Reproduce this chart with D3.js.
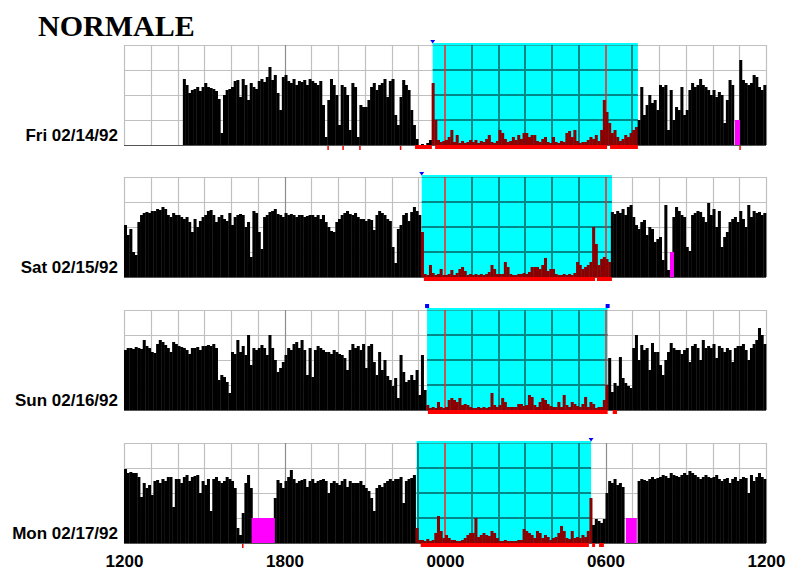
<!DOCTYPE html>
<html><head><meta charset="utf-8">
<script src="https://cdn.jsdelivr.net/npm/d3@7"></script>
<style>body{margin:0;background:#fff}svg{display:block}</style>
</head><body>
<svg id="c" width="786" height="571"></svg>
<script>
const title = "NORMALE";
const dayLabels = ["Fri 02/14/92","Sat 02/15/92","Sun 02/16/92","Mon 02/17/92"];
const tickHours = [0,6,12,18,24];
const tickLabels = ["1200","1800","0000","0600","1200"];

// activity per 6-minute epoch, starting at 12:00 (10 values per hour)
const fri = [
0,0,0,0,0,0,0,0,0,0,
0,0,0,0,0,0,0,0,0,0,
0,0,66,60,52,55,56,58,54,58,
62,58,57,56,54,46,12,50,55,56,
58,64,65,48,66,60,45,62,58,56,
64,66,63,68,78,65,70,52,35,68,
70,64,62,66,60,64,63,65,60,66,
64,62,60,64,40,8,45,66,60,50,
20,60,58,50,15,62,58,8,40,38,
38,45,58,62,55,60,62,66,48,64,
66,30,20,48,65,60,55,35,20,6,
0,1,0,2,5,62,25,5,3,4,
5,8,15,3,10,2,4,2,3,5,
3,5,2,4,3,6,10,3,2,4,
15,12,6,3,4,8,5,10,6,12,
12,8,10,10,4,3,6,8,3,2,
8,3,2,4,3,12,14,8,15,4,
2,3,3,5,8,6,10,4,15,45,
33,22,12,15,8,4,6,10,8,12,
15,18,25,58,30,40,50,42,45,35,
60,58,60,15,55,25,38,35,58,30,
35,55,62,58,60,66,60,58,55,50,
55,48,53,50,22,45,65,60,0,0,
85,65,62,60,62,70,68,58,55,60];
const sat = [
52,42,48,25,22,55,62,64,65,64,
66,66,68,67,70,68,62,60,64,62,
62,60,58,60,55,45,58,50,56,60,
62,66,67,62,55,60,62,58,56,64,
52,60,62,63,62,50,55,20,66,64,
45,28,60,62,65,66,68,63,62,60,
64,62,63,62,60,62,62,60,61,62,
62,60,62,58,62,55,50,46,45,55,
58,62,64,66,63,62,64,60,58,58,
56,58,57,47,62,66,64,62,58,56,
30,14,48,52,62,64,56,65,70,66,
62,45,3,2,12,4,2,3,8,2,
2,3,7,2,4,8,10,6,2,3,
2,3,2,3,2,3,5,12,8,3,
3,3,15,10,3,2,2,3,3,4,
3,5,10,10,10,8,12,19,6,8,
8,3,2,2,3,2,3,2,4,15,
12,8,10,12,15,50,33,12,18,20,
18,15,65,63,66,64,68,62,70,72,
60,52,48,55,57,42,50,48,35,38,
40,17,72,7,0,60,70,66,62,60,
30,26,62,64,66,65,60,55,74,62,
68,50,66,30,40,45,55,58,60,55,
66,58,50,72,60,66,64,65,62,64];
const sun = [
60,62,62,61,63,62,61,70,64,62,
58,57,66,70,68,65,62,58,68,66,
64,63,62,60,56,62,62,63,60,64,
64,65,64,66,62,30,35,33,28,17,
58,56,70,58,64,55,75,45,62,60,
62,65,62,55,75,62,50,38,42,48,
55,62,60,66,68,62,70,60,35,62,
33,60,64,62,60,58,58,56,60,58,
56,55,52,40,60,66,62,64,60,66,
42,64,66,48,35,58,40,50,34,30,
24,32,12,55,38,28,30,35,30,40,
15,55,20,5,2,3,2,8,3,2,
3,10,12,10,8,12,5,6,5,3,
2,2,3,2,3,2,3,17,5,3,
5,12,8,3,3,3,3,6,6,4,
5,15,13,5,3,8,12,10,6,4,
3,3,8,3,15,5,3,8,6,4,
3,6,13,3,8,6,2,3,3,10,
25,52,18,27,24,53,32,27,24,22,
62,75,50,65,60,62,40,67,58,58,
45,35,50,58,67,62,60,60,56,60,
62,48,64,66,62,50,70,62,64,62,
66,52,64,62,58,62,60,48,62,64,
64,66,60,50,62,66,70,82,75,66];
const mon = [
74,70,71,70,70,66,46,60,55,58,
48,62,63,60,64,62,66,66,36,64,
64,60,66,68,62,66,67,68,50,62,
58,64,32,64,66,62,60,62,66,64,
62,55,15,8,30,60,68,55,0,0,
0,0,0,0,0,0,45,63,60,55,
62,66,73,64,60,62,63,64,56,62,
64,60,62,63,64,62,50,60,62,60,
58,62,64,56,62,60,60,60,62,58,
55,52,45,32,55,58,56,60,62,64,
62,64,64,66,40,62,64,65,68,15,
3,3,2,4,2,3,10,27,12,5,
8,5,3,3,2,2,3,5,8,10,
10,25,6,8,10,8,7,12,10,5,
2,2,3,2,2,2,2,3,3,14,
12,10,8,5,12,10,5,8,6,3,
5,6,10,17,12,5,4,12,5,6,
5,8,6,12,45,18,24,22,20,24,
50,62,60,64,58,60,56,0,0,0,
0,0,62,64,63,62,64,66,64,65,
66,68,67,65,70,68,67,66,68,70,
68,72,70,68,66,64,66,68,66,65,
66,68,64,62,64,65,60,64,66,62,
64,66,65,50,68,62,66,70,66,64];

// intervals in hours after 12:00
const restIntervals = [[11.54,19.21],[11.13,18.24],[11.33,18.08],[10.94,17.46]];
const sleepIntervals = [
  [[10.88,11.51],[11.63,18.06],[18.17,19.21]],
  [[11.21,17.61],[17.68,18.24]],
  [[11.36,18.08],[18.27,18.43]],
  [[11.09,17.38],[17.50,17.61],[17.76,17.94]]];
const sleepTicks = [[7.63,8.19,8.82,10.34,23.03],[],[],[4.44]];
const offWrist = [[[22.84,23.03]],[[20.41,20.56]],[],[[4.77,5.64],[18.76,19.17]]];
const markerHours = [[11.54],[11.13],[11.33,18.08],[17.46]];
const markerShapes = ["tri","tri","sq","tri"];

const days = [fri, sat, sun, mon];
const svg = d3.select("#c");
const x = d3.scaleLinear().domain([0,24]).range([124,766]);
const tops = [45,177,310,443];
const H = 100;
const px = v => Math.round(v) + 0.5;

svg.append("text").attr("x",38).attr("y",36)
  .attr("font-family","'Liberation Serif','Times New Roman',serif")
  .attr("font-weight","bold").attr("font-size",30).attr("fill","#000").text(title);

days.forEach((vals, i) => {
  const g = svg.append("g").attr("transform", `translate(0,${tops[i]})`);
  const y = d3.scaleLinear().domain([0,100]).range([H,0]);
  const [rs, re] = restIntervals[i];
  const hrs = d3.range(0,25);
  const rows = [0,25,50,75,100];

  // base grid
  g.selectAll(".hg").data(rows).join("line")
    .attr("x1",x(0)).attr("x2",x(24)).attr("y1",d=>px(y(d))).attr("y2",d=>px(y(d)))
    .attr("stroke","#c0c0c0").attr("stroke-width",1.2);
  g.selectAll(".vg").data(hrs).join("line")
    .attr("x1",d=>px(x(d))).attr("x2",d=>px(x(d))).attr("y1",0).attr("y2",H)
    .attr("stroke",d=>(d===6||d===12||d===18)?"#8c8c8c":"#c0c0c0").attr("stroke-width",1.2);

  // rest interval
  g.append("rect").attr("x",x(rs)).attr("y",-2).attr("width",x(re)-x(rs)).attr("height",H+2)
    .attr("fill","#00ffff");
  g.selectAll(".rh").data(rows.slice(1,4)).join("line")
    .attr("x1",x(rs)).attr("x2",x(re)).attr("y1",d=>Math.round(y(d))).attr("y2",d=>Math.round(y(d)))
    .attr("stroke","#008888").attr("stroke-width",2);
  g.append("line").attr("x1",x(rs)).attr("x2",x(re)).attr("y1",0.5).attr("y2",0.5)
    .attr("stroke","#20b0b0").attr("stroke-width",1);
  g.selectAll(".rv").data(hrs.filter(h=>h>rs&&h<re)).join("line")
    .attr("x1",d=>Math.round(x(d))).attr("x2",d=>Math.round(x(d))).attr("y1",0).attr("y2",H)
    .attr("stroke",d=>(d===12||d===18)?"#ff2020":"#008888")
    .attr("stroke-width",d=>(d===12||d===18)?1.5:2);

  // activity bars
  const bw = x(0.1) - x(0);
  g.selectAll(".bar").data(vals.map((v,k)=>({v,k})).filter(d=>d.v>0)).join("rect")
    .attr("x",d=>x(d.k*0.1)).attr("width",bw+0.35)
    .attr("y",d=>y(d.v)).attr("height",d=>H-y(d.v))
    .attr("fill",d=>{const m=d.k*0.1+0.05; return (m>=rs&&m<=re)?"#8b0000":"#000";});

  // off-wrist
  g.selectAll(".off").data(offWrist[i]).join("rect")
    .attr("x",d=>x(d[0])).attr("width",d=>x(d[1])-x(d[0]))
    .attr("y",y(25)).attr("height",H-y(25)).attr("fill","#ff00ff");

  // baseline
  g.append("line").attr("x1",x(0)).attr("x2",x(24)).attr("y1",H+0.5).attr("y2",H+0.5)
    .attr("stroke","#555");

  // sleep bars
  g.selectAll(".sl").data(sleepIntervals[i]).join("rect")
    .attr("x",d=>x(d[0])).attr("width",d=>x(d[1])-x(d[0]))
    .attr("y",H).attr("height",4).attr("fill","#ff0000");
  g.selectAll(".st").data(sleepTicks[i]).join("rect")
    .attr("x",d=>x(d)-0.75).attr("width",1.5).attr("y",H+1).attr("height",4).attr("fill","#ff0000");

  // markers
  markerHours[i].forEach(h => {
    const cx = x(h);
    if (markerShapes[i] === "sq") {
      g.append("rect").attr("x",cx-2).attr("y",-6).attr("width",4).attr("height",4).attr("fill","#0000ff");
    } else {
      g.append("path").attr("d",`M${cx-2.5},-5L${cx+2.5},-5L${cx},-1.5Z`).attr("fill","#0000ff");
    }
  });

  // day label
  svg.append("text").attr("x",118).attr("y",tops[i]+H-4).attr("text-anchor","end")
    .attr("font-family","'Liberation Sans',Arial,sans-serif").attr("font-weight","bold")
    .attr("font-size",17).attr("fill","#000").text(dayLabels[i]);
});

// x axis
const axis = d3.axisBottom(x).tickValues(tickHours).tickFormat((d,k)=>tickLabels[k]).tickSize(0).tickPadding(0);
const ag = svg.append("g").attr("transform","translate(0,555)").call(axis);
ag.select(".domain").remove();
ag.selectAll("text").attr("dy","0.72em").attr("y",0)
  .attr("font-family","'Liberation Sans',Arial,sans-serif").attr("font-weight","bold")
  .attr("font-size",17).attr("fill","#000");
</script>
</body></html>
